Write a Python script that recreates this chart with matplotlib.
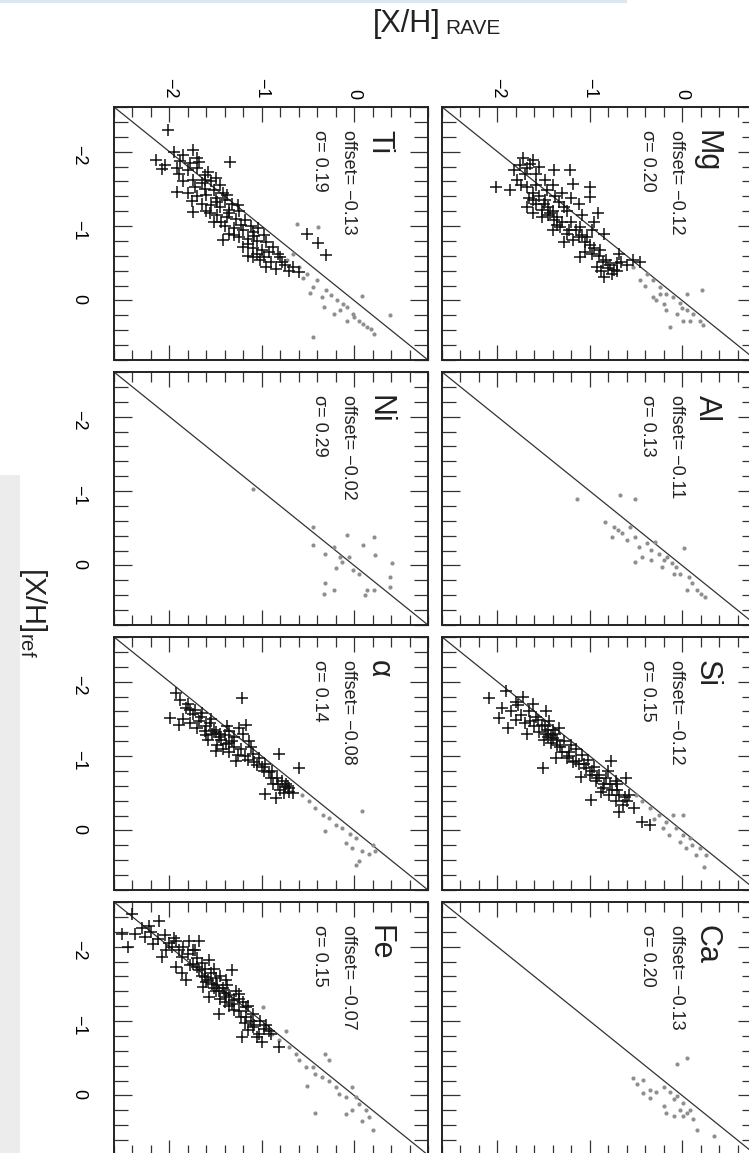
import numpy as np
import matplotlib
matplotlib.use("Agg")
import matplotlib.pyplot as plt
from matplotlib.patches import Rectangle
from matplotlib.ticker import MultipleLocator

plt.rcParams["font.family"] = ["Liberation Sans", "DejaVu Sans"]
plt.rcParams["mathtext.fontset"] = "custom"
plt.rcParams["mathtext.rm"] = "Liberation Sans"
plt.rcParams["mathtext.it"] = "Liberation Sans:italic"

# panel labels, in original reading order (top row then bottom row)
ELEMENTS = ["Mg", "Al", "Si", "Ca", "Ti", "Ni", "α", "Fe"]
OFFSETS = [-0.12, -0.11, -0.12, -0.13, -0.13, -0.02, -0.08, -0.07]
SIGMAS = [0.20, 0.13, 0.15, 0.20, 0.19, 0.29, 0.14, 0.15]

# points are (rave, ref) pairs
MG_PLUS = [(-2.01, -1.53), (-1.72, -1.91), (-1.65, -1.84), (-1.61, -1.89), (-1.39, -1.75),
           (-1.21, -1.75), (-1.00, -1.53), (-1.00, -1.39), (-0.91, -1.17), (-1.18, -1.57),
           (-1.79, -1.62), (-1.86, -1.48), (-1.68, -1.26), (-1.61, -1.17), (-1.43, -1.17),
           (-1.39, -1.08), (-1.32, -0.99), (-1.25, -0.90), (-1.18, -0.81), (-1.11, -0.59),
           (-1.03, -0.85), (-0.89, -0.68), (-0.92, -0.45), (-0.74, -0.41), (-0.71, -0.50),
           (-0.53, -0.54), (-0.46, -0.52), (-0.85, -0.32), (-1.11, -0.99), (-1.55, -1.40),
           (-1.50, -1.30), (-1.45, -1.25), (-1.40, -1.20), (-1.35, -1.12), (-1.30, -1.05),
           (-1.52, -1.12), (-1.48, -1.35), (-1.58, -1.55), (-1.70, -1.70), (-1.75, -1.55),
           (-1.62, -1.45), (-1.25, -1.20), (-1.20, -1.05), (-1.15, -0.95), (-1.08, -0.88),
           (-1.00, -0.75), (-0.95, -0.70), (-0.90, -0.60), (-0.82, -0.55), (-0.78, -0.48),
           (-1.05, -0.65), (-1.28, -0.78), (-1.40, -0.95), (-1.58, -1.30), (-1.66, -1.38),
           (-1.82, -1.75), (-1.55, -1.80), (-1.30, -1.45), (-1.12, -1.30), (-0.95, -1.05),
           (-0.85, -0.90), (-0.68, -0.62), (-0.60, -0.48), (-0.88, -0.40), (-0.76, -0.36),
           (-1.76, -1.82), (-1.68, -1.78), (-1.58, -1.70), (-1.48, -1.62), (-1.40, -1.55),
           (-1.68, -1.52), (-1.46, -1.48), (-1.38, -1.40), (-1.33, -1.32), (-1.28, -1.25),
           (-1.45, -1.15), (-1.36, -1.02), (-1.22, -0.95), (-1.12, -0.85), (-1.05, -0.78),
           (-0.98, -0.62), (-0.86, -0.52), (-0.80, -0.44), (-0.70, -0.40), (-1.52, -1.22),
           (-1.62, -1.35), (-1.20, -1.38), (-1.08, -1.15), (-0.98, -0.95), (-0.66, -0.52)]
MG_DOT = [(-0.53, -0.45), (-0.38, -0.36), (-0.31, -0.27), (-0.24, -0.18), (-0.17, -0.09),
          (-0.10, -0.05), (-0.02, 0.04), (0.05, 0.13), (0.12, 0.18), (0.19, 0.27),
          (0.23, 0.33), (-0.17, 0.13), (-0.28, 0.00), (-0.13, 0.36), (0.01, 0.27),
          (0.21, -0.14), (0.05, -0.09), (-0.06, 0.18), (-0.24, -0.09), (-0.31, -0.05),
          (-0.46, -0.27), (0.09, 0.27), (-0.40, -0.20), (-0.20, 0.05), (0.00, 0.10)]
AL_DOT = [(-1.14, -0.90), (-0.67, -0.95), (-0.51, -0.90), (-0.83, -0.59), (-0.74, -0.52),
          (-0.65, -0.43), (-0.56, -0.52), (-0.51, -0.38), (-0.47, -0.25), (-0.38, -0.30),
          (-0.34, -0.21), (-0.29, -0.32), (-0.25, -0.16), (-0.20, -0.07), (-0.16, -0.12),
          (-0.11, -0.03), (-0.07, 0.02), (-0.02, 0.11), (0.02, -0.23), (0.07, 0.15),
          (0.11, 0.24), (0.16, 0.33), (0.20, 0.38), (0.25, 0.42), (0.05, 0.33),
          (-0.51, -0.05), (-0.43, -0.12), (-0.60, -0.34), (-0.69, -0.47), (-0.34, -0.07),
          (-0.22, 0.02), (-0.09, 0.11), (-0.76, -0.38)]
SI_PLUS = [(-2.09, -1.78), (-1.91, -1.87), (-1.80, -1.73), (-1.98, -1.51), (-1.89, -1.38),
           (-1.47, -1.60), (-1.65, -1.47), (-1.55, -1.33), (-1.47, -1.29), (-1.40, -1.24),
           (-1.33, -1.38), (-1.44, -1.47), (-1.51, -0.84), (-1.37, -0.97), (-1.22, -1.06),
           (-1.15, -0.93), (-1.08, -1.02), (-1.04, -0.84), (-1.00, -0.75), (-0.93, -0.66),
           (-0.86, -0.57), (-0.79, -0.48), (-0.77, -0.93), (-0.61, -0.70), (-0.72, -0.66),
           (-0.72, -0.39), (-0.64, -0.34), (-0.99, -0.41), (-0.57, -0.48), (-0.43, -0.12),
           (-0.35, -0.08), (-1.95, -1.65), (-1.85, -1.60), (-1.75, -1.55), (-1.70, -1.45),
           (-1.60, -1.40), (-1.52, -1.42), (-1.45, -1.35), (-1.38, -1.30), (-1.50, -1.22),
           (-1.42, -1.18), (-1.35, -1.15), (-1.28, -1.20), (-1.20, -1.15), (-1.30, -1.05),
           (-1.25, -0.98), (-1.12, -0.90), (-0.95, -0.85), (-0.90, -0.75), (-0.82, -0.70),
           (-0.78, -0.62), (-0.70, -0.55), (-0.88, -0.52), (-1.62, -1.70), (-1.72, -1.80),
           (-1.58, -1.52), (-1.80, -1.48), (-1.68, -1.30), (-1.10, -0.72), (-0.60, -0.40),
           (-0.52, -0.30), (-0.68, -0.25), (-1.78, -1.68), (-1.66, -1.60), (-1.56, -1.48),
           (-1.48, -1.40), (-1.42, -1.28), (-1.36, -1.22), (-1.45, -1.25), (-1.40, -1.35),
           (-1.32, -1.12), (-1.22, -1.00), (-1.18, -0.92), (-1.06, -0.90), (-0.98, -0.80),
           (-0.92, -0.70), (-0.85, -0.62), (-0.76, -0.55), (-0.68, -0.48), (-0.62, -0.45),
           (-1.15, -1.10), (-1.02, -0.95), (-0.80, -0.80), (-0.70, -0.62)]
SI_DOT = [(-0.50, -0.48), (-0.43, -0.39), (-0.35, -0.30), (-0.25, -0.21), (-0.17, -0.12),
          (-0.10, -0.21), (-0.07, -0.03), (0.01, 0.06), (0.08, 0.10), (0.11, 0.19),
          (0.19, 0.24), (0.26, 0.33), (0.24, 0.49), (0.01, -0.21), (-0.14, 0.06),
          (-0.21, -0.03), (0.15, 0.33), (0.04, 0.24), (-0.30, -0.15), (-0.02, 0.15)]
CA_DOT = [(0.05, -0.51), (-0.06, -0.42), (-0.53, -0.24), (-0.49, -0.15), (-0.42, -0.21),
          (-0.35, -0.08), (-0.28, -0.04), (-0.20, -0.12), (-0.13, -0.04), (-0.09, 0.05),
          (-0.06, 0.01), (0.01, 0.10), (-0.20, 0.14), (-0.17, 0.23), (-0.09, 0.28),
          (-0.02, 0.19), (0.05, 0.23), (0.12, 0.32), (0.16, 0.46), (0.34, 0.55),
          (-0.35, 0.03), (-0.42, -0.03), (0.01, 0.28), (0.09, 0.19)]
TI_PLUS = [(-2.01, -2.29), (-2.14, -1.89), (-2.08, -1.77), (-2.05, -1.82), (-1.92, -1.46),
           (-1.74, -1.19), (-1.34, -1.86), (-1.42, -0.81), (-1.09, -0.59), (-0.51, -0.90),
           (-0.39, -0.77), (-0.30, -0.61), (-1.95, -2.00), (-1.85, -1.95), (-1.75, -2.02),
           (-1.70, -1.92), (-1.90, -1.70), (-1.80, -1.75), (-1.70, -1.78), (-1.62, -1.68),
           (-1.85, -1.60), (-1.75, -1.62), (-1.65, -1.58), (-1.55, -1.60), (-1.45, -1.55),
           (-1.50, -1.65), (-1.80, -1.45), (-1.70, -1.40), (-1.60, -1.42), (-1.50, -1.38),
           (-1.40, -1.35), (-1.65, -1.30), (-1.55, -1.28), (-1.45, -1.25), (-1.35, -1.22),
           (-1.25, -1.20), (-1.60, -1.20), (-1.48, -1.15), (-1.38, -1.12), (-1.28, -1.10),
           (-1.18, -1.08), (-1.52, -1.05), (-1.40, -1.00), (-1.30, -0.98), (-1.20, -0.95),
           (-1.10, -0.92), (-1.35, -0.90), (-1.25, -0.85), (-1.15, -0.82), (-1.05, -0.80),
           (-0.98, -0.88), (-1.20, -0.72), (-1.10, -0.70), (-1.00, -0.68), (-0.92, -0.65),
           (-1.15, -0.60), (-1.02, -0.55), (-0.90, -0.52), (-0.80, -0.58), (-0.95, -0.45),
           (-0.85, -0.42), (-0.75, -0.48), (-0.70, -0.40), (-1.88, -1.88), (-1.78, -1.85),
           (-1.68, -1.86), (-1.92, -1.78), (-1.58, -1.72), (-1.72, -1.52), (-1.62, -1.50),
           (-1.52, -1.48), (-1.42, -1.45), (-1.76, -1.34), (-1.48, -1.32), (-1.32, -1.30),
           (-1.56, -1.18), (-1.44, -1.05), (-1.22, -1.02), (-1.12, -1.00), (-1.30, -0.88),
           (-1.08, -0.86), (-0.95, -0.78), (-1.15, -0.76), (-0.88, -0.72), (-1.05, -0.62),
           (-0.82, -0.62), (-0.78, -0.52), (-0.66, -0.45), (-0.60, -0.38), (-1.62, -1.62),
           (-1.38, -1.42), (-1.26, -1.28), (-1.36, -1.17), (-1.04, -0.97), (-0.98, -0.58)]
TI_DOT = [(-0.62, -1.03), (-0.39, -0.99), (-0.66, -0.63), (-0.73, -0.54), (-0.51, -0.36),
          (-0.44, -0.18), (-0.30, -0.14), (-0.19, 0.00), (-0.08, 0.09), (-0.01, 0.18),
          (0.10, 0.31), (0.21, 0.45), (0.39, 0.20), (0.08, -0.06), (-0.44, 0.49),
          (0.14, 0.36), (-0.08, 0.27), (-0.22, 0.18), (-0.33, 0.09), (-0.15, 0.13),
          (-0.60, -0.45), (-0.55, -0.30), (-0.40, -0.28), (-0.35, -0.05), (-0.25, -0.08),
          (-0.12, 0.05), (0.00, 0.22), (0.05, 0.28), (-0.48, -0.10), (0.18, 0.38)]
NI_DOT = [(-1.09, -1.03), (-0.44, -0.52), (-0.44, -0.27), (-0.31, -0.16), (-0.22, -0.25),
          (-0.15, -0.12), (-0.13, -0.05), (-0.08, -0.41), (-0.06, -0.12), (-0.20, 0.04),
          (-0.01, 0.06), (0.05, 0.11), (0.10, -0.27), (0.21, -0.38), (0.23, -0.14),
          (0.41, -0.03), (0.39, 0.15), (0.39, 0.29), (0.14, 0.33), (0.21, 0.33),
          (0.12, 0.40), (-0.31, 0.24), (-0.22, 0.33), (-0.33, 0.38)]
ALPHA_PLUS = [(-1.93, -1.85), (-1.21, -1.78), (-1.99, -1.51), (-1.90, -1.42), (-1.82, -1.65),
              (-1.75, -1.56), (-1.68, -1.47), (-1.61, -1.34), (-1.54, -1.29), (-1.46, -1.25),
              (-1.39, -1.16), (-1.32, -1.20), (-1.25, -1.38), (-1.17, -1.42), (-1.10, -1.03),
              (-1.03, -0.98), (-0.96, -0.89), (-0.89, -0.80), (-0.81, -1.03), (-0.60, -0.84),
              (-0.74, -0.63), (-0.70, -0.57), (-0.96, -0.49), (-0.85, -0.44), (-1.35, -1.34),
              (-1.14, -1.20), (-1.50, -1.07), (-1.28, -0.93), (-1.88, -1.75), (-1.80, -1.70),
              (-1.72, -1.62), (-1.65, -1.58), (-1.85, -1.50), (-1.78, -1.45), (-1.70, -1.38),
              (-1.60, -1.40), (-1.52, -1.35), (-1.45, -1.30), (-1.40, -1.28), (-1.58, -1.22),
              (-1.48, -1.15), (-1.42, -1.10), (-1.35, -1.05), (-1.22, -1.10), (-1.18, -1.00),
              (-1.08, -0.92), (-1.00, -0.85), (-0.92, -0.78), (-0.84, -0.70), (-0.78, -0.66),
              (-0.72, -0.60), (-0.88, -0.62), (-0.80, -0.55), (-0.76, -0.50), (-1.30, -1.25),
              (-1.60, -1.28), (-1.78, -1.62), (-1.66, -1.52), (-1.56, -1.44), (-1.50, -1.32),
              (-1.44, -1.22), (-1.36, -1.18), (-1.30, -1.12), (-1.26, -1.02), (-1.15, -0.95),
              (-1.05, -0.88), (-0.98, -0.80), (-0.90, -0.70), (-0.82, -0.62), (-0.75, -0.58),
              (-0.70, -0.52), (-0.66, -0.50), (-1.55, -1.50), (-1.38, -1.40), (-1.20, -1.30),
              (-1.12, -1.12)]
ALPHA_DOT = [(-0.67, -0.53), (-0.56, -0.48), (-0.49, -0.39), (-0.42, -0.30), (-0.34, -0.21),
             (-0.27, -0.17), (-0.20, -0.08), (-0.13, -0.03), (-0.05, 0.05), (0.02, 0.10),
             (0.09, -0.26), (-0.31, 0.01), (-0.09, 0.17), (-0.02, 0.23), (0.09, 0.28),
             (0.16, 0.32), (0.23, 0.28), (0.05, 0.41), (0.02, 0.46), (0.20, 0.19)]
FE_PLUS = [(-2.40, -2.44), (-2.51, -2.17), (-2.37, -2.17), (-2.26, -2.13), (-2.11, -2.35),
           (-2.18, -2.04), (-2.04, -1.95), (-1.97, -2.00), (-1.86, -1.86), (-1.75, -1.77),
           (-1.68, -2.08), (-1.68, -1.68), (-1.61, -1.59), (-1.54, -1.50), (-1.46, -1.41),
           (-1.39, -1.32), (-1.32, -1.68), (-1.32, -1.23), (-1.25, -1.14), (-1.17, -1.05),
           (-1.10, -0.92), (-1.03, -0.83), (-1.21, -0.78), (-1.46, -1.10), (-1.82, -1.55),
           (-1.93, -1.73), (-1.72, -1.95), (-1.57, -1.82), (-1.79, -2.08), (-1.93, -2.08),
           (-2.08, -1.86), (-1.86, -1.64), (-1.64, -1.46), (-1.57, -1.32), (-1.39, -1.55),
           (-1.25, -1.37), (-1.17, -1.19), (-0.92, -0.87), (-0.81, -0.65), (-2.30, -2.25),
           (-2.20, -2.20), (-2.12, -2.10), (-2.00, -2.05), (-1.90, -1.95), (-1.80, -1.90),
           (-1.70, -1.85), (-1.78, -1.75), (-1.70, -1.72), (-1.62, -1.70), (-1.55, -1.65),
           (-1.65, -1.60), (-1.58, -1.55), (-1.50, -1.58), (-1.48, -1.48), (-1.42, -1.45),
           (-1.50, -1.40), (-1.40, -1.38), (-1.35, -1.35), (-1.45, -1.30), (-1.30, -1.28),
           (-1.20, -1.25), (-1.35, -1.20), (-1.22, -1.05), (-1.12, -1.00), (-1.08, -0.95),
           (-1.15, -0.88), (-0.98, -0.90), (-1.05, -0.78), (-2.45, -2.00), (-2.22, -2.28),
           (-2.05, -2.15), (-1.95, -2.12), (-1.85, -2.00), (-1.75, -1.95), (-1.65, -1.78),
           (-1.52, -1.70), (-1.45, -1.60), (-1.38, -1.48), (-1.28, -1.40), (-1.25, -1.30),
           (-1.15, -1.20), (-1.10, -1.10), (-1.02, -1.00), (-0.95, -0.95), (-0.90, -0.82),
           (-1.00, -0.72), (-1.60, -1.52), (-1.52, -1.45), (-1.40, -1.25), (-1.30, -1.15),
           (-1.18, -0.98)]
FE_DOT = [(-0.99, -1.19), (-0.96, -0.92), (-0.89, -0.83), (-0.81, -0.74), (-0.74, -0.87),
          (-0.70, -0.65), (-0.63, -0.56), (-0.60, -0.47), (-0.52, -0.38), (-0.45, -0.38),
          (-0.31, -0.56), (-0.27, -0.47), (-0.42, -0.29), (-0.35, -0.25), (-0.27, -0.20),
          (-0.20, -0.11), (-0.16, -0.02), (-0.09, 0.02), (-0.02, -0.11), (0.02, 0.02),
          (0.05, 0.11), (0.13, 0.20), (0.16, 0.29), (0.20, 0.47), (-0.42, 0.24),
          (-0.51, -0.13), (-0.02, 0.20), (-0.09, 0.25), (0.09, 0.34)]

PLUS = [MG_PLUS, [], SI_PLUS, [], TI_PLUS, [], ALPHA_PLUS, FE_PLUS]
DOTS = [MG_DOT, AL_DOT, SI_DOT, CA_DOT, TI_DOT, NI_DOT, ALPHA_DOT, FE_DOT]

LIM = (-2.6, 0.8)

# the page is turned a quarter clockwise: [X/H]_RAVE runs across, [X/H]_ref runs down
W, H = 749, 1153
COL_X = [114, 442]
ROW_Y = [107, 372, 637, 902]
AX_W, AX_H = 314, 253

fig = plt.figure(figsize=(W / 100, H / 100), dpi=100)
fig.patches.append(Rectangle((0, 0), 20 / W, (H - 475) / H, transform=fig.transFigure,
                             facecolor="#ececec", edgecolor="none", zorder=0))
fig.patches.append(Rectangle((0, 1 - 3 / H), 627 / W, 3 / H, transform=fig.transFigure,
                             facecolor="#d6e9f2", edgecolor="none", zorder=0))

ink = "#222222"
for i, name in enumerate(ELEMENTS):
    orow, ocol = divmod(i, 4)
    drow, dcol = ocol, 1 - orow
    x0, y0 = COL_X[dcol], ROW_Y[drow]
    ax = fig.add_axes([x0 / W, 1 - (y0 + AX_H) / H, AX_W / W, AX_H / H])
    ax.set_xlim(*LIM)
    ax.set_ylim(LIM[1], LIM[0])
    ax.plot(LIM, LIM, color="#333333", lw=0.9, zorder=2)
    if DOTS[i]:
        d = np.array(DOTS[i])
        ax.plot(d[:, 0], d[:, 1], "o", color="#8f8f8f", ms=3, mew=0, zorder=3)
    if PLUS[i]:
        p = np.array(PLUS[i])
        ax.plot(p[:, 0], p[:, 1], "+", color="#111111", ms=8, mew=1.1, zorder=4)

    for axis in (ax.xaxis, ax.yaxis):
        axis.set_major_locator(MultipleLocator(1))
        axis.set_minor_locator(MultipleLocator(0.2))
    ax.tick_params(which="both", direction="in", top=True, bottom=True, left=True,
                   right=True, color="#333333", width=0.9, labelsize=13,
                   labelbottom=False, labeltop=(drow == 0),
                   labelleft=(dcol == 0), labelright=False)
    ax.tick_params(axis="x", which="major", length=11, pad=6, labelrotation=-90)
    ax.tick_params(axis="x", which="minor", length=7)
    ax.tick_params(axis="y", which="major", length=13, pad=19, labelrotation=-90)
    ax.tick_params(axis="y", which="minor", length=10)
    for s in ax.spines.values():
        s.set_linewidth(1.4)
        s.set_color(ink)

    kw = dict(transform=ax.transAxes, rotation=-90, rotation_mode="anchor",
              ha="left", va="baseline", color=ink)
    ax.text(1 - 57 / AX_W, 1 - 23 / AX_H, name, fontsize=22, **kw)
    ax.text(1 - 84 / AX_W, 1 - 23 / AX_H, f"offset= \u2212{abs(OFFSETS[i]):.2f}",
            fontsize=13, **kw)
    ax.text(1 - 113 / AX_W, 1 - 23 / AX_H, f"σ= {SIGMAS[i]:.2f}", fontsize=13, **kw)

# axis titles of the turned page
fig.text(441 / W, 1 - 32 / H, "[X/H]", fontsize=22, ha="right", va="baseline", color=ink)
fig.text(445 / W, 1 - 34 / H, "RAVE", fontsize=15, ha="left", va="baseline", color=ink)
fig.text(33 / W, 1 - 612 / H, r"$\mathrm{[X/H]}_{\mathrm{ref}}$", fontsize=21,
         rotation=-90, ha="center", va="center", color=ink)

fig.savefig("out.png", dpi=100)
